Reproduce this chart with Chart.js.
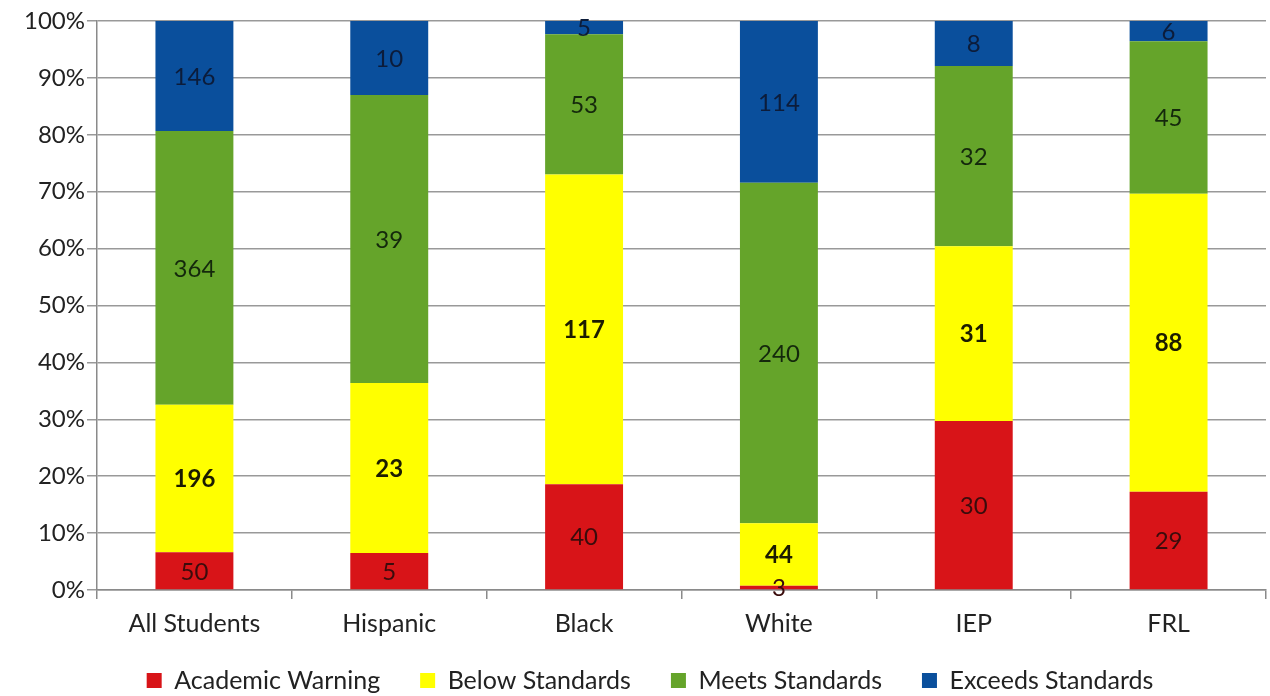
<!DOCTYPE html>
<html>
<head>
<meta charset="utf-8">
<script src="https://cdn.jsdelivr.net/npm/chart.js@4/dist/chart.umd.min.js"></script>
<style>
  html, body { margin: 0; padding: 0; background: #ffffff; }
  #wrap { position: relative; width: 1270px; height: 696px; }
</style>
</head>
<body>
<div id="wrap"><canvas id="c" width="1270" height="696"></canvas></div>
<script>
// Student groups and the number of students at each performance level
const groups = ['All Students', 'Hispanic', 'Black', 'White', 'IEP', 'FRL'];
const academicWarning  = [50, 5, 40, 3, 30, 29];
const belowStandards   = [196, 23, 117, 44, 31, 88];
const meetsStandards   = [364, 39, 53, 240, 32, 45];
const exceedsStandards = [146, 10, 5, 114, 8, 6];
const levelNames = ['Academic Warning', 'Below Standards', 'Meets Standards', 'Exceeds Standards'];
const yTicks = [0, 10, 20, 30, 40, 50, 60, 70, 80, 90, 100];

const counts = [academicWarning, belowStandards, meetsStandards, exceedsStandards];
const totals = groups.map((_, i) => counts.reduce((s, arr) => s + arr[i], 0));
const toPercent = arr => arr.map((v, i) => v / totals[i] * 100);

const fills = ['#d81418', '#ffff00', '#65a42a', '#0a4f9c'];
const labelColors = ['#3a0c0c', '#1c1c00', '#14280c', '#0c1c3a'];
const labelBold = [false, true, false, false];
const FONT = 'Lato, "Open Sans", sans-serif';

// Writes each segment's student count in the middle of its bar piece
const segmentLabels = {
  id: 'segmentLabels',
  afterDatasetsDraw(chart) {
    const ctx = chart.ctx;
    ctx.save();
    ctx.textAlign = 'center';
    ctx.textBaseline = 'middle';
    chart.data.datasets.forEach((ds, di) => {
      const meta = chart.getDatasetMeta(di);
      ctx.font = (labelBold[di] ? 'bold ' : '') + '24px ' + FONT;
      ctx.fillStyle = labelColors[di];
      meta.data.forEach((bar, i) => {
        const y = (bar.y + bar.base) / 2;
        ctx.fillText(String(ds.counts[i]), bar.x, y + 1);
      });
    });
    ctx.restore();
  }
};

// Nudges the legend row right and lets the category labels hang below the axis box
const layoutTweaks = {
  id: 'layoutTweaks',
  afterLayout(chart) {
    if (chart.legend) {
      chart.legend.left += 17;
      chart.legend.right += 17;
    }
    if (chart.scales.x) {
      chart.scales.x.bottom = chart.height;
    }
  }
};

const datasets = levelNames.map((name, k) => ({
  label: name,
  data: toPercent(counts[k]),
  counts: counts[k],
  backgroundColor: fills[k],
  borderWidth: 0,
  categoryPercentage: 0.8,
  barPercentage: 0.5
}));

new Chart(document.getElementById('c'), {
  type: 'bar',
  data: { labels: groups, datasets },
  plugins: [segmentLabels, layoutTweaks],
  options: {
    responsive: false,
    animation: false,
    layout: { padding: { top: 21, right: 4, left: 0, bottom: -7 } },
    plugins: {
      tooltip: { enabled: false },
      legend: {
        position: 'bottom',
        labels: {
          boxWidth: 15,
          boxHeight: 15,
          padding: 40,
          color: '#222222',
          font: { family: FONT, size: 25 }
        }
      }
    },
    scales: {
      x: {
        stacked: true,
        grid: {
          offset: true,
          drawOnChartArea: false,
          drawTicks: true,
          tickLength: 9,
          color: '#8a8a8a',
          lineWidth: 1.5
        },
        border: { display: true, color: '#8a8a8a', width: 1.5 },
        ticks: { color: '#222222', font: { family: FONT, size: 25 }, padding: 10 },
        afterFit(scale) { scale.height = 38; }
      },
      y: {
        stacked: true,
        min: 0,
        max: 100,
        afterBuildTicks(scale) { scale.ticks = yTicks.map(v => ({ value: v })); },
        grid: { color: '#999999', lineWidth: 1.5, tickLength: 10 },
        border: { display: true, color: '#8a8a8a', width: 1.5 },
        ticks: {
          color: '#222222',
          font: { family: FONT, size: 24 },
          padding: 2,
          callback: v => v + '%'
        },
        afterFit(scale) { scale.width = 97; }
      }
    }
  }
});
</script>
</body>
</html>
